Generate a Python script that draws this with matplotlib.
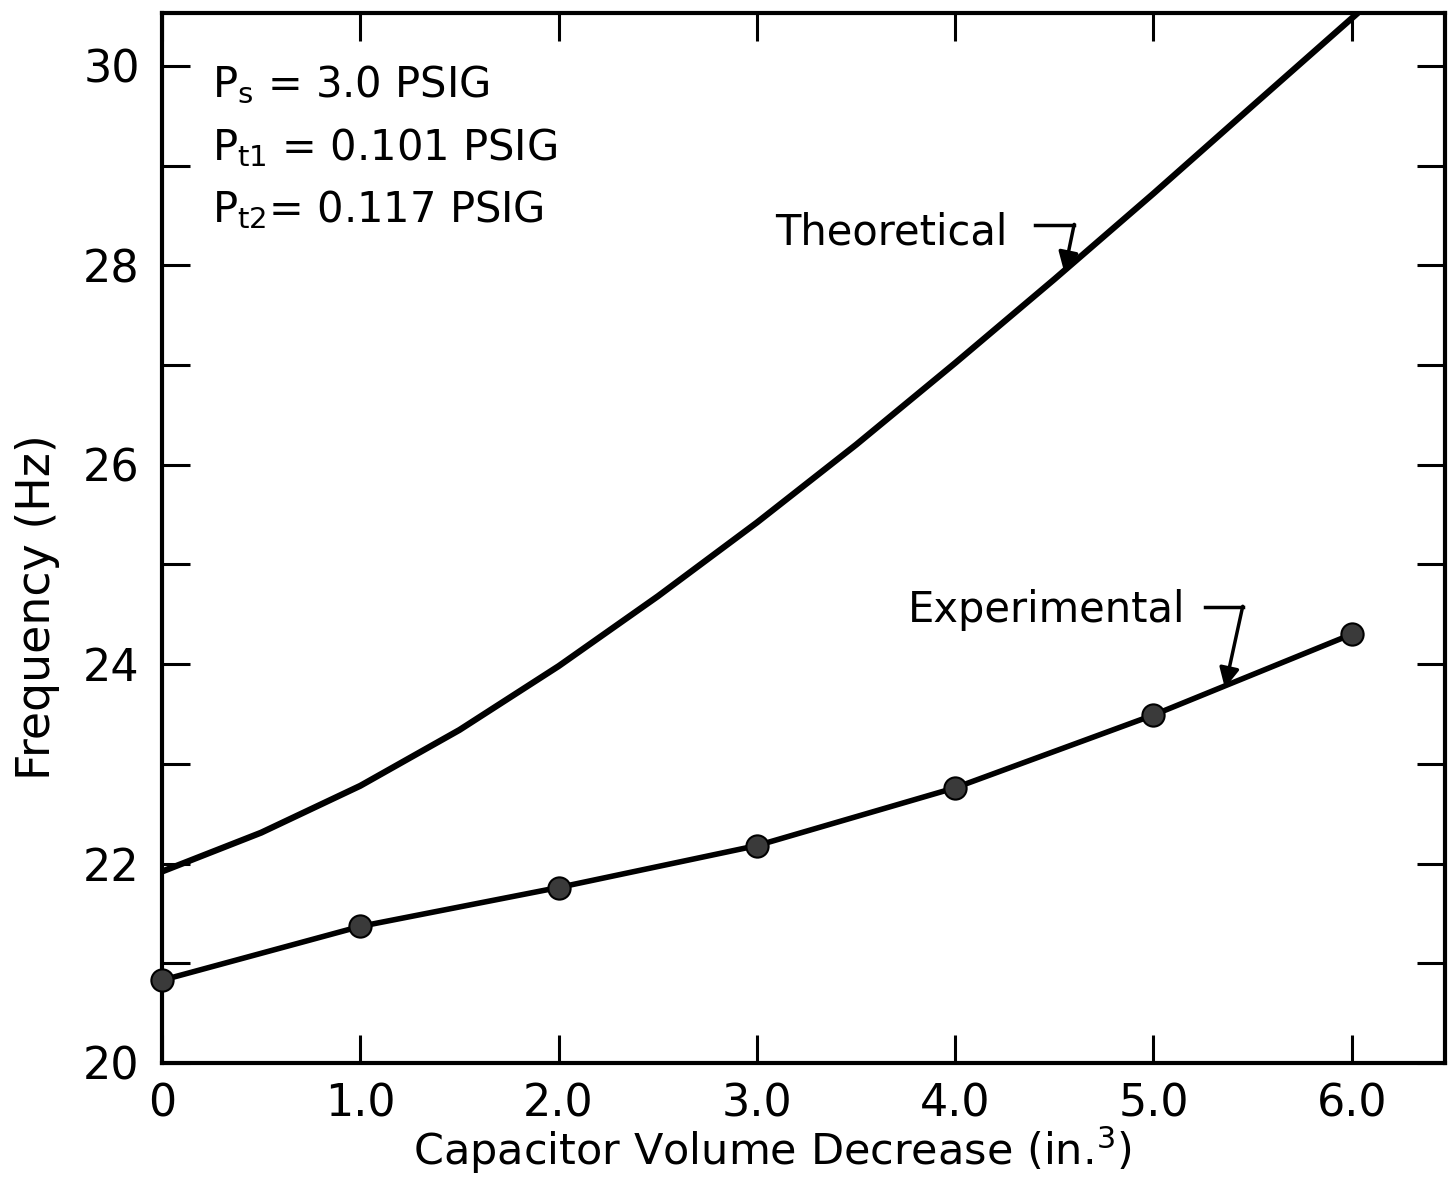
# Frequency vs capacitor volume decrease (theoretical / experimental)

import matplotlib.pyplot as plt
import numpy as np

# data
theo_x = [0.0, 0.5, 1.0, 1.5, 2.0, 2.5, 3.0, 3.5, 4.0, 4.5, 5.0, 5.5, 6.03]
theo_y = [21.92, 22.31, 22.78, 23.34, 23.98, 24.68, 25.42, 26.20, 27.02, 27.86, 28.72, 29.60, 30.53]

exp_x = [0.0, 1.0, 2.0, 3.0, 4.0, 5.0, 6.0]
exp_y = [20.83, 21.37, 21.76, 22.18, 22.76, 23.49, 24.30]

x_ticks = [0, 1, 2, 3, 4, 5, 6]
x_ticklabels = ['0', '1.0', '2.0', '3.0', '4.0', '5.0', '6.0']
y_ticks = [20, 22, 24, 26, 28, 30]

plt.rcParams['font.family'] = ['DejaVu Sans']
plt.rcParams['mathtext.default'] = 'regular'

fig = plt.figure(figsize=(14.53, 11.8), dpi=100)
ax = fig.add_axes([162 / 1453, 1 - 1063 / 1180, (1445 - 162) / 1453, (1063 - 13) / 1180])

# curves
ax.plot(theo_x, theo_y, color='black', lw=4.5, solid_capstyle='round', solid_joinstyle='round')
ax.plot(exp_x, exp_y, color='black', lw=4.0, solid_capstyle='round', solid_joinstyle='round',
        marker='o', markersize=16, markerfacecolor='#3a3a3a',
        markeredgecolor='black', markeredgewidth=1.5, clip_on=False, zorder=5)

ax.set_xlim(0, 6.47)
ax.set_ylim(20, 30.53)

# ticks
ax.set_xticks(x_ticks)
ax.set_xticklabels(x_ticklabels)
ax.set_yticks(y_ticks)
ax.set_yticks(np.arange(21, 31, 2), minor=True)
ax.tick_params(axis='both', which='both', direction='in', length=20, width=2.2,
               top=True, right=True, labelsize=32, pad=14)
ax.tick_params(axis='y', which='major', pad=16)
for s in ax.spines.values():
    s.set_linewidth(3)

# axis titles (placed as in the original drawing)
fig.text(772 / 1453, 1 - 1150 / 1180, r'Capacitor Volume Decrease (in.$^3$)',
         fontsize=31, ha='center', va='center')
fig.text(38 / 1453, 1 - 607 / 1180, 'Frequency (Hz)', fontsize=33,
         rotation=90, ha='center', va='center')

# condition text
ax.text(0.25, 29.81, r'P$_s$ = 3.0 PSIG', fontsize=30, va='center', ha='left')
ax.text(0.25, 29.18, r'P$_{t1}$ = 0.101 PSIG', fontsize=30, va='center', ha='left')
ax.text(0.25, 28.56, r'P$_{t2}$= 0.117 PSIG', fontsize=30, va='center', ha='left')

# curve labels with bent arrows
ax.text(3.09, 28.33, 'Theoretical', fontsize=30, va='center', ha='left')
ax.plot([4.40, 4.60], [28.40, 28.40], color='black', lw=2.5)
ax.annotate('', xy=(4.55, 27.93), xytext=(4.60, 28.41),
            arrowprops=dict(arrowstyle='-|>', color='black', lw=2.5,
                            mutation_scale=30, shrinkA=0, shrinkB=0))

ax.text(3.76, 24.54, 'Experimental', fontsize=30, va='center', ha='left')
ax.plot([5.26, 5.45], [24.57, 24.57], color='black', lw=2.5)
ax.annotate('', xy=(5.36, 23.76), xytext=(5.45, 24.58),
            arrowprops=dict(arrowstyle='-|>', color='black', lw=2.5,
                            mutation_scale=30, shrinkA=0, shrinkB=0))

plt.savefig('out.png', dpi=100)
